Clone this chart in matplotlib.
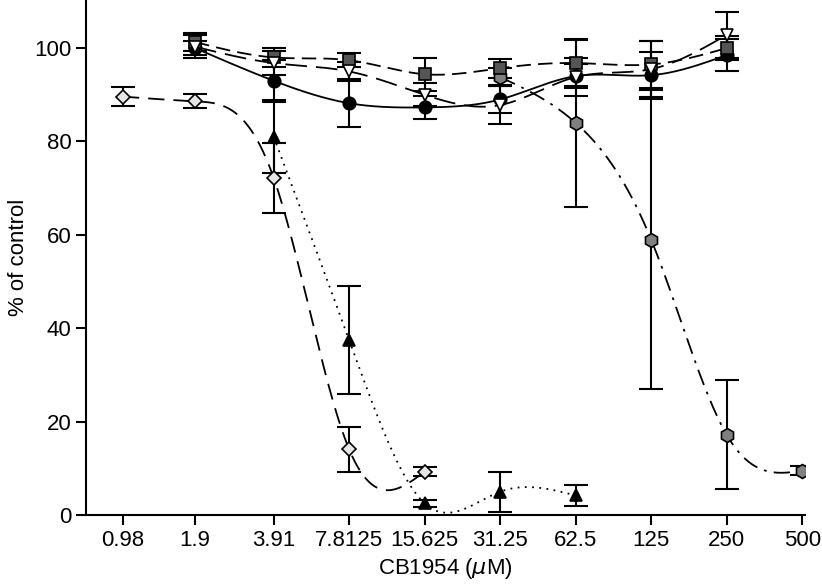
import numpy as np
import matplotlib
matplotlib.use("Agg")
import matplotlib.pyplot as plt

plt.rcParams['font.family'] = ['Liberation Sans Narrow', 'Liberation Sans', 'DejaVu Sans']

# concentrations (uM)
conc_labels = ['0.98', '1.9', '3.91', '7.8125', '15.625', '31.25', '62.5', '125', '250', '500']
conc = [0.98, 1.9, 3.91, 7.8125, 15.625, 31.25, 62.5, 125, 250, 500]

# series: x values, % of control, error
diam_x = [0.98, 1.9, 3.91, 7.8125, 15.625]
diam_y = [89.6, 88.6, 72.2, 14.1, 9.3]
diam_e = [2.0, 1.5, 7.5, 4.8, 1.0]

tri_x = [3.91, 7.8125, 15.625, 31.25, 62.5]
tri_y = [81.0, 37.5, 2.5, 5.0, 4.2]
tri_e = [7.8, 11.5, 0.8, 4.3, 2.3]

hex_x = [31.25, 62.5, 125, 250, 500]
hex_y = [93.8, 84.0, 59.0, 17.2, 9.5]
hex_e = [2.0, 18.0, 32.0, 11.7, 1.0]

circ_x = [1.9, 3.91, 7.8125, 15.625, 31.25, 62.5, 125, 250]
circ_y = [100.0, 93.0, 88.2, 87.3, 89.0, 94.0, 94.2, 98.5]
circ_e = [1.5, 4.5, 5.2, 2.5, 3.0, 2.5, 5.0, 3.5]

sq_x = [1.9, 3.91, 7.8125, 15.625, 31.25, 62.5, 125, 250]
sq_y = [101.3, 98.0, 97.4, 94.4, 95.7, 96.8, 96.5, 100.0]
sq_e = [2.0, 2.0, 1.5, 3.5, 2.0, 5.0, 5.0, 2.5]

tdn_x = [1.9, 3.91, 7.8125, 15.625, 31.25, 62.5, 125, 250]
tdn_y = [100.3, 96.8, 95.0, 90.0, 87.8, 93.8, 95.5, 102.8]
tdn_e = [2.5, 2.5, 2.0, 2.5, 4.0, 4.0, 6.0, 5.0]


def natural_spline(xs, ys, n=300):
    # natural cubic spline through the points, in log2(x)
    t = np.log2(xs)
    y = np.asarray(ys, float)
    k = len(t)
    h = np.diff(t)
    A = np.zeros((k, k))
    b = np.zeros(k)
    A[0, 0] = A[-1, -1] = 1
    for i in range(1, k - 1):
        A[i, i - 1] = h[i - 1]
        A[i, i] = 2 * (h[i - 1] + h[i])
        A[i, i + 1] = h[i]
        b[i] = 3 * ((y[i + 1] - y[i]) / h[i] - (y[i] - y[i - 1]) / h[i - 1])
    c = np.linalg.solve(A, b)
    tt = np.linspace(t[0], t[-1], n)
    out = np.empty_like(tt)
    for j, v in enumerate(tt):
        i = min(np.searchsorted(t, v, side='right') - 1, k - 2)
        bi = (y[i + 1] - y[i]) / h[i] - h[i] * (2 * c[i] + c[i + 1]) / 3
        di = (c[i + 1] - c[i]) / (3 * h[i])
        d = v - t[i]
        out[j] = y[i] + bi * d + c[i] * d ** 2 + di * d ** 3
    return 2 ** tt, out


fig = plt.figure(figsize=(8.22, 5.88), dpi=100)
ax = fig.add_axes([0.105, 0.124, 0.874, 0.876])

series = [
    (diam_x, diam_y, diam_e, 'D', '#e6e6e6', (0, (9, 5)), 9),
    (tri_x, tri_y, tri_e, '^', 'black', (0, (1, 3)), 9),
    (hex_x, hex_y, hex_e, 'h', '#808080', (0, (9, 4, 1.5, 4)), 10),
    (circ_x, circ_y, circ_e, 'o', 'black', '-', 9),
    (sq_x, sq_y, sq_e, 's', '#555555', (0, (8, 4)), 8),
    (tdn_x, tdn_y, tdn_e, 'v', 'white', (0, (12, 5)), 9),
]

for xs, ys, es, mk, fc, ls, ms in series:
    sx, sy = natural_spline(xs, ys)
    ax.plot(sx, sy, color='black', lw=1.3, ls=ls, zorder=2)
    ax.errorbar(xs, ys, yerr=es, fmt='none', ecolor='black', elinewidth=1.5,
                capsize=8.5, capthick=1.5, zorder=3)
    msz = ms * 0.8 if mk == 'D' else ms
    ax.plot(xs, ys, ls='none', marker=mk, ms=msz, mfc=fc, mec='black',
            mew=1.2, zorder=4)

ax.set_xscale('log', base=2)
ax.set_xlim(0.70, 512)
ax.set_ylim(0, 110.3)
ax.set_xticks(conc)
ax.set_xticklabels(conc_labels)
ax.minorticks_off()
ax.set_yticks([0, 20, 40, 60, 80, 100])
ax.tick_params(labelsize=16, width=1.5, length=7, direction='out')
for s in ['top', 'right']:
    ax.spines[s].set_visible(False)
for s in ['left', 'bottom']:
    ax.spines[s].set_linewidth(1.5)

ax.set_xlabel(r'CB1954 ($\mu$M)', fontsize=16)
ax.set_ylabel('% of control', fontsize=16)

fig.savefig('out.png', dpi=100)
